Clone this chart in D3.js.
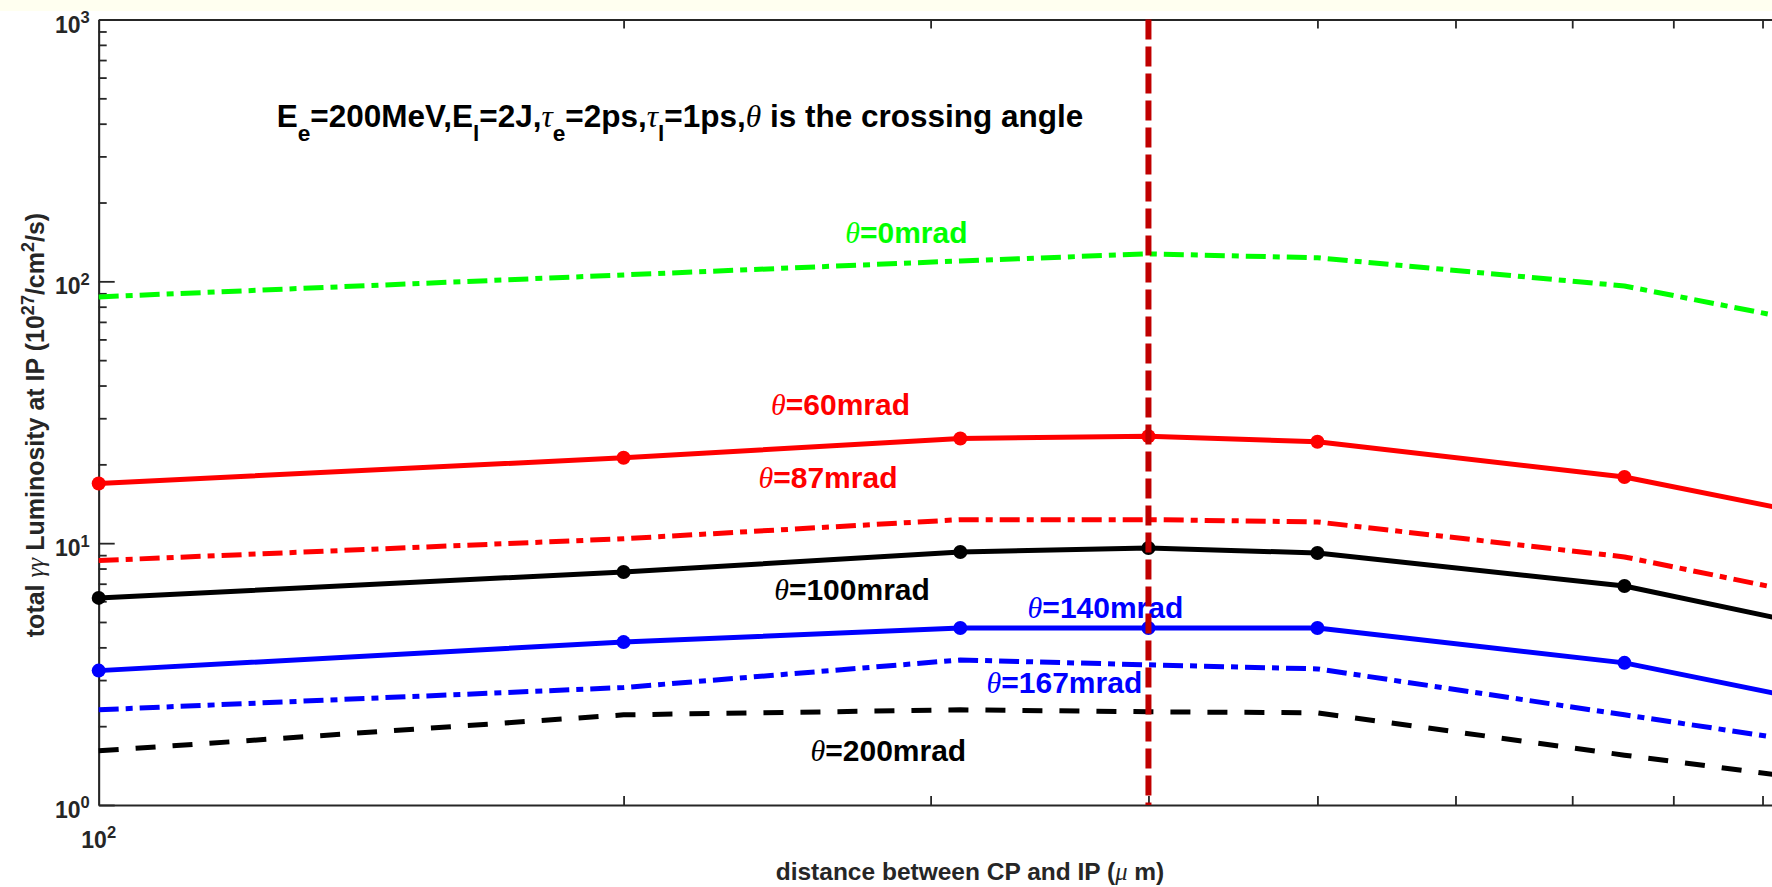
<!DOCTYPE html>
<html lang="en">
<head>
<meta charset="UTF-8" />
<title>Total gamma-gamma luminosity vs CP-IP distance</title>
<script src="https://d3js.org/d3.v7.min.js"></script>
<style>
    body { margin: 0; background: #fff; }
    svg { display: block; font-family: "Liberation Sans", Arial, sans-serif; }
    .axis path, .axis line { stroke: #262626; stroke-width: 1.8; }
    .greek { font-family: "Liberation Serif", "Times New Roman", serif; font-style: italic; font-weight: normal; }
</style>
</head>
<body>
<svg id="chart" width="1772" height="887"></svg>
<script>
    // distance between CP and IP (um)
    const distances = [100, 200, 312, 400, 500, 750, 1000];

    // total luminosity (10^27 /cm^2/s), one list per crossing angle
    const lum0   = [87.2, 105.8, 119.7, 127.3, 123.0, 96.0, 66.0];
    const lum60  = [16.9, 21.2, 25.1, 25.6, 24.4, 17.9, 12.2];
    const lum87  = [8.58, 10.4, 12.3, 12.3, 12.05, 8.86, 6.0];
    const lum100 = [6.18, 7.76, 9.25, 9.59, 9.17, 6.86, 4.59];
    const lum140 = [3.26, 4.19, 4.74, 4.74, 4.74, 3.49, 2.37];
    const lum167 = [2.31, 2.81, 3.58, 3.43, 3.31, 2.21, 1.66];
    const lum200 = [1.61, 2.21, 2.31, 2.27, 2.25, 1.55, 1.21];

    const angles = [0, 60, 87, 100, 140, 167, 200];   // mrad
    const markedDistance = 400;                        // red vertical line

    const xMinorTicks = [200, 300, 400, 500, 600, 700, 800, 900];
    const yMajorTicks = [1, 10, 100, 1000];
    const yMinorTicks = [1, 10, 100].flatMap(d => d3.range(2, 10).map(k => k * d));

    // styles
    const dashDot = "20,7,7,7";
    const dashed = "20,17";
    const seriesStyle = [
        { color: "#00ff00", dash: dashDot, markers: false },
        { color: "#ff0000", dash: null,    markers: true  },
        { color: "#ff0000", dash: dashDot, markers: false },
        { color: "#000000", dash: null,    markers: true  },
        { color: "#0000ff", dash: null,    markers: true  },
        { color: "#0000ff", dash: dashDot, markers: false },
        { color: "#000000", dash: dashed,  markers: false }
    ];
    // curve label anchors, in data coordinates (distance, luminosity)
    const labelAt = [[268, 140], [243, 30.9], [239, 16.25], [244, 6.07], [341, 5.18], [323, 2.68], [256, 1.473]];

    const allLum = [lum0, lum60, lum87, lum100, lum140, lum167, lum200];
    const series = allLum.map((vals, i) => ({
        angle: angles[i],
        points: distances.map((d, j) => [d, vals[j]]),
        ...seriesStyle[i]
    }));

    const svg = d3.select("#chart");
    const W = 1772, H = 887;

    // scales (axes box runs past the right edge of the picture)
    const x = d3.scaleLog().domain([100, 1000]).range([98.7, 1842.3]);
    const y = d3.scaleLog().domain([1, 1000]).range([805, 19.5]);

    svg.append("rect").attr("width", W).attr("height", H).attr("fill", "#fff");
    svg.append("rect").attr("width", W).attr("height", 11).attr("fill", "#fffff0");

    // rich text helper: sub/superscripts and greek letters
    function rich(textSel, parts, size) {
        let shift = 0;
        parts.forEach(p => {
            const ts = textSel.append("tspan").text(p.t);
            let target = 0;
            if (p.sub) target = size * 0.45;
            if (p.sup) target = -size * 0.42;
            ts.attr("dy", target - shift);
            shift = target;
            if (p.sub || p.sup) ts.attr("font-size", size * 0.72);
            if (p.greek) ts.attr("class", "greek");
        });
        return textSel;
    }

    // axes
    svg.append("g").attr("class", "axis")
        .attr("transform", `translate(0,${y(1)})`)
        .call(d3.axisBottom(x).tickValues(xMinorTicks).tickSizeInner(-9).tickSizeOuter(0).tickFormat(""));
    svg.append("g").attr("class", "axis")
        .attr("transform", `translate(0,${y(1000)})`)
        .call(d3.axisTop(x).tickValues(xMinorTicks).tickSizeInner(-9).tickSizeOuter(0).tickFormat(""));
    svg.append("g").attr("class", "axis")
        .attr("transform", `translate(${x(100)},0)`)
        .call(d3.axisLeft(y).tickValues(yMajorTicks).tickSizeInner(-16).tickSizeOuter(0).tickFormat(""));
    svg.append("g").attr("class", "axis")
        .attr("transform", `translate(${x(100)},0)`)
        .call(d3.axisLeft(y).tickValues(yMinorTicks).tickSizeInner(-8).tickSizeOuter(0).tickFormat(""));

    // tick labels
    yMajorTicks.forEach(v => {
        const t = svg.append("text")
            .attr("x", x(100) - 9)
            .attr("y", y(v) + 13)
            .attr("text-anchor", "end")
            .attr("font-size", 23)
            .attr("font-weight", "bold")
            .attr("fill", "#262626");
        rich(t, [{ t: "10" }, { t: String(Math.round(Math.log10(v))), sup: true }], 23);
    });
    const xl = svg.append("text")
        .attr("x", x(100))
        .attr("y", 848)
        .attr("text-anchor", "middle")
        .attr("font-size", 23)
        .attr("font-weight", "bold")
        .attr("fill", "#262626");
    rich(xl, [{ t: "10" }, { t: "2", sup: true }], 23);

    // axis titles
    const xt = svg.append("text")
        .attr("x", 970)
        .attr("y", 880)
        .attr("text-anchor", "middle")
        .attr("font-size", 24.5)
        .attr("font-weight", "bold")
        .attr("fill", "#262626");
    rich(xt, [{ t: "distance between CP and IP (" }, { t: "μ", greek: true }, { t: " m)" }], 24.5);

    const yt = svg.append("text")
        .attr("transform", "translate(44,425) rotate(-90)")
        .attr("text-anchor", "middle")
        .attr("font-size", 25)
        .attr("font-weight", "bold")
        .attr("fill", "#262626");
    rich(yt, [
        { t: "total " }, { t: "γγ", greek: true }, { t: " Luminosity at IP (10" },
        { t: "27", sup: true }, { t: "/cm" }, { t: "2", sup: true }, { t: "/s)" }
    ], 25);

    // curves
    const line = d3.line().x(d => x(d[0])).y(d => y(d[1]));

    series.forEach(s => {
        svg.append("path")
            .datum(s.points)
            .attr("d", line)
            .attr("fill", "none")
            .attr("stroke", s.color)
            .attr("stroke-width", 5)
            .attr("stroke-dasharray", s.dash)
            .attr("stroke-linejoin", "round");
        if (s.markers) {
            svg.selectAll(null)
                .data(s.points)
                .enter()
                .append("circle")
                .attr("cx", d => x(d[0]))
                .attr("cy", d => y(d[1]))
                .attr("r", 7)
                .attr("fill", s.color);
        }
    });

    // curve labels
    series.forEach((s, i) => {
        const t = svg.append("text")
            .attr("x", x(labelAt[i][0]))
            .attr("y", y(labelAt[i][1]))
            .attr("font-size", 30)
            .attr("font-weight", "bold")
            .attr("fill", s.color);
        rich(t, [{ t: "θ", greek: true }, { t: `=${s.angle}mrad` }], 30);
    });

    // parameter note
    const note = svg.append("text")
        .attr("x", x(126.5))
        .attr("y", y(389))
        .attr("font-size", 31.5)
        .attr("font-weight", "bold")
        .attr("fill", "#000");
    rich(note, [
        { t: "E" }, { t: "e", sub: true }, { t: "=200MeV,E" }, { t: "l", sub: true },
        { t: "=2J," }, { t: "τ", greek: true }, { t: "e", sub: true }, { t: "=2ps," },
        { t: "τ", greek: true }, { t: "l", sub: true }, { t: "=1ps," },
        { t: "θ", greek: true }, { t: " is the crossing angle" }
    ], 31.5);

    // vertical marker at the chosen distance
    svg.append("line")
        .attr("x1", x(markedDistance)).attr("x2", x(markedDistance))
        .attr("y1", y(1000)).attr("y2", y(1))
        .attr("stroke", "#c00000")
        .attr("stroke-width", 6)
        .attr("stroke-dasharray", "20,7");
</script>
</body>
</html>
